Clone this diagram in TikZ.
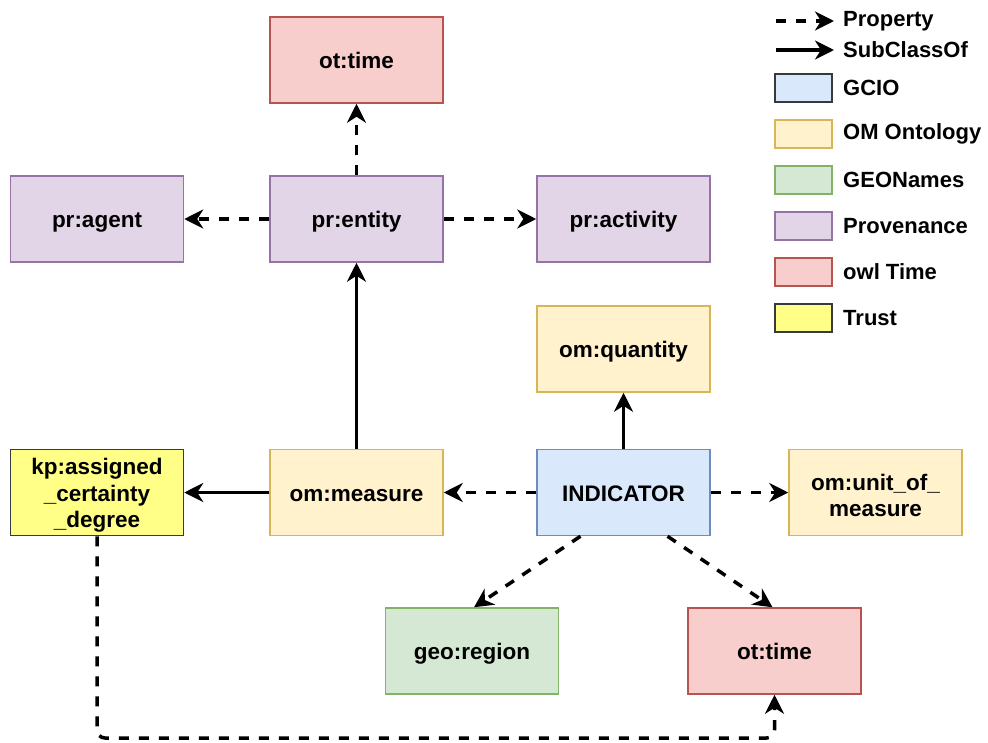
\documentclass[tikz,border=0pt]{standalone}
\usepackage{fontspec}
\setmainfont{Liberation Sans}
\usetikzlibrary{arrows.meta}
\definecolor{gcioF}{HTML}{DAE8FC}\definecolor{gcioD}{HTML}{6C8EBF}
\definecolor{omF}{HTML}{FFF2CC}\definecolor{omD}{HTML}{D6B656}
\definecolor{geoF}{HTML}{D5E8D4}\definecolor{geoD}{HTML}{82B366}
\definecolor{prF}{HTML}{E1D5E7}\definecolor{prD}{HTML}{9673A6}
\definecolor{timeF}{HTML}{F8CECC}\definecolor{timeD}{HTML}{B85450}
\definecolor{trustF}{HTML}{FFFF88}\definecolor{darkD}{HTML}{36393D}
\newcommand{\firstline}{\rule{0pt}{22.5pt}}
\tikzset{
  cls/.style={draw, line width=1.5pt, minimum width=173pt, minimum height=86pt,
    align=center, inner sep=2pt, font=\bfseries\fontsize{22.5}{26.5}\selectfont},
  oneline/.style={text height=21pt, text depth=4pt},
  gcio/.style={cls, fill=gcioF, draw=gcioD},
  omont/.style={cls, fill=omF, draw=omD},
  geon/.style={cls, fill=geoF, draw=geoD},
  prov/.style={cls, fill=prF, draw=prD},
  owlt/.style={cls, fill=timeF, draw=timeD},
  trust/.style={cls, fill=trustF, draw=darkD},
  tip/.style={-{Stealth[length=19pt,width=19pt,inset=6pt]}},
  subcls/.style={tip, line width=3.5pt},
  prop/.style={tip, line width=3.5pt, dash pattern=on 10pt off 10pt},
  legbox/.style={draw, line width=1.5pt, minimum width=57pt, minimum height=28pt, inner sep=0pt},
  legtxt/.style={anchor=west, inner sep=0pt, font=\bfseries\fontsize{22}{26}\selectfont},
}
\begin{document}
\begin{tikzpicture}[x=1pt,y=-1pt]
\useasboundingbox (0,0) rectangle (988,742);

% classes
\node[owlt, oneline]  (ttop)    at (356.5,60)  {ot:time};
\node[prov, oneline]  (agent)   at (97,219)    {pr:agent};
\node[prov, oneline]  (entity)  at (356.5,219) {pr:entity};
\node[prov, oneline]  (activity)at (623.5,219) {pr:activity};
\node[omont, oneline] (quantity)at (623.5,349) {om:quantity};
\node[trust]          (kp)      at (97,492.5)  {\firstline kp:assigned\\\_certainty\\\_degree};
\node[omont, oneline] (measure) at (356.5,492.5) {om:measure};
\node[gcio, oneline]  (ind)     at (623.5,492.5) {INDICATOR};
\node[omont]          (unit)    at (875.5,492.5) {\firstline om:unit\_of\_\\measure};
\node[geon, oneline]  (region)  at (472,651)   {geo:region};
\node[owlt, oneline]  (tbot)    at (774.5,651) {ot:time};

% properties and subclass links
\draw[prop] (entity) -- (ttop);
\draw[prop] (entity) -- (agent);
\draw[prop] (entity) -- (activity);
\draw[subcls] (measure) -- (entity);
\draw[subcls] (measure) -- (kp);
\draw[prop] (ind) -- (measure);
\draw[subcls] (ind) -- (quantity);
\draw[prop] (ind) -- (unit);
\draw[prop] ([xshift=-43pt]ind.south) -- ([xshift=2pt]region.north);
\draw[prop] ([xshift=44pt]ind.south) -- ([xshift=-2pt]tbot.north);
\draw[prop, rounded corners=8pt] (kp.south) -- (97,738) -- (774.5,738) -- (tbot.south);

% legend
\coordinate (lp1) at (776,21);  \coordinate (lp2) at (834,21);
\coordinate (ls1) at (776,50);  \coordinate (ls2) at (834,50);
\draw[prop] (lp1) -- (lp2);
\draw[subcls] (ls1) -- (ls2);
\node[legtxt] (lgp) at (843,21) {Property};
\node[legtxt] (lgs) at (843,50) {SubClassOf};
\node[legbox, fill=gcioF, draw=darkD] (lb1) at (803.5,88) {};
\node[legbox, fill=omF, draw=omD]     (lb2) at (803.5,134) {};
\node[legbox, fill=geoF, draw=geoD]   (lb3) at (803.5,180) {};
\node[legbox, fill=prF, draw=prD]     (lb4) at (803.5,226) {};
\node[legbox, fill=timeF, draw=timeD] (lb5) at (803.5,272) {};
\node[legbox, fill=trustF, draw=darkD](lb6) at (803.5,318) {};
\node[legtxt] at (843,88)  {GCIO};
\node[legtxt] at (843,134) {OM Ontology};
\node[legtxt] at (843,180) {GEONames};
\node[legtxt] at (843,226) {Provenance};
\node[legtxt] at (843,272) {owl Time};
\node[legtxt] at (843,318) {Trust};
\end{tikzpicture}
\end{document}
